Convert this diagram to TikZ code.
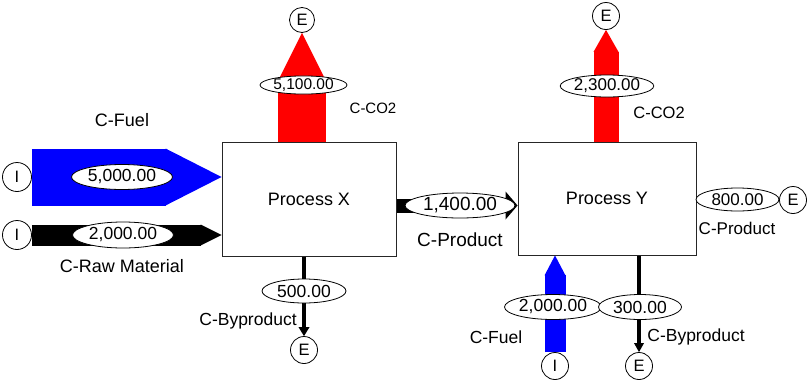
\documentclass[tikz,border=0pt]{standalone}
\usepackage{fontspec}
\setmainfont{Liberation Sans}
\usetikzlibrary{arrows.meta,shapes.geometric}
\pgfdeclarelayer{bg}
\pgfsetlayers{bg,main}
\newcommand{\myfs}[1]{\fontsize{#1}{#1}\selectfont}
\begin{document}
\begin{tikzpicture}[x=1pt,y=-1pt,
  proc/.style={draw=black!85, line width=0.9pt, fill=white, inner sep=0pt, font=\myfs{18}},
  val/.style={ellipse, draw, line width=0.8pt, fill=white, inner sep=0pt, font=\myfs{17.5}},
  term/.style={circle, draw, line width=0.8pt, fill=white, minimum size=27pt, inner sep=0pt, font=\myfs{16.5}},
  lbl/.style={inner sep=0pt, font=\myfs{17.5}},
  flowarrow/.style n args={3}{line width=#1, -{Triangle[length=#2,width=#3,line width=0pt]}}
]
\useasboundingbox (0,0) rectangle (810,386);

% process boxes
\node[proc, minimum width=174pt, minimum height=114pt] (X) at (309,199) {Process X};
\node[proc, minimum width=178pt, minimum height=113pt] (Y) at (607,198.5) {Process Y};

% terminals
\node[term, minimum size=29pt] (I1) at (17,177) {I};
\node[term, minimum size=29pt] (I2) at (17,235) {I};
\node[term] (I3) at (555,366) {I};
\node[term, minimum size=25pt] (E1) at (302,20) {E};
\node[term] (E2) at (606,16) {E};
\node[term] (E3) at (793,200) {E};
\node[term] (E4) at (639,366) {E};
\node[term] (E5) at (304,350) {E};

% value ellipses
\node[val, minimum width=101pt, minimum height=25pt] (V1) at (122,177) {5,000.00};
\node[val, minimum width=101pt, minimum height=26pt] (V2) at (123,235) {2,000.00};
\node[val, minimum width=87pt, minimum height=18pt, font=\myfs{15.5}] (V3) at (303.5,85) {5,100.00};
\node[val, minimum width=110pt, minimum height=25pt, font=\myfs{19}] (V4) at (460,205.5) {1,400.00};
\node[val, minimum width=93pt, minimum height=22pt, font=\myfs{17}] (V5) at (607,86) {2,300.00};
\node[val, minimum width=83pt, minimum height=23pt, font=\myfs{17}] (V6) at (737.5,199.5) {800.00};
\node[val, minimum width=97pt, minimum height=25pt] (V7) at (553,307) {2,000.00};
\node[val, minimum width=83pt, minimum height=25pt] (V8) at (640,307) {300.00};
\node[val, minimum width=84pt, minimum height=24pt] (V9) at (304,291) {500.00};

% labels
\node[lbl, font=\myfs{18}] (L1) at (122,120) {C-Fuel};
\node[lbl, font=\myfs{18}] (L2) at (122,266) {C-Raw Material};
\node[lbl, font=\myfs{15}] (L3) at (373,108) {C-CO2};
\node[lbl, font=\myfs{19}] (L4) at (460,240) {C-Product};
\node[lbl, font=\myfs{16.5}] (L5) at (659,113) {C-CO2};
\node[lbl, font=\myfs{17}] (L6) at (737,228) {C-Product};
\node[lbl] (L7) at (496,337) {C-Fuel};
\node[lbl] (L8) at (696,337) {C-Byproduct};
\node[lbl] (L9) at (248,321) {C-Byproduct};

% flows
\begin{pgfonlayer}{bg}
\fill[white] (0,0) rectangle (810,386);
\draw[blue, flowarrow={57pt}{56pt}{57pt}] (I1.east) -- (I1.east -| X.west);
\draw[black, flowarrow={21pt}{21pt}{21pt}] (I2.east) -- (I2.east -| X.west);
\draw[red, flowarrow={48pt}{48pt}{48pt}] (E1.south |- X.north) -- (E1.south);
\draw[black, flowarrow={14pt}{12pt}{28pt}] (X.east |- V4) -- (Y.west |- V4);
\draw[red, flowarrow={25pt}{22pt}{25pt}] (E2.south |- Y.north) -- (E2.south);
\draw[black, flowarrow={6pt}{6pt}{10pt}] (Y.east |- E3) -- (E3.west);
\draw[blue, flowarrow={21pt}{20pt}{21pt}] (I3.north) -- (I3.north |- Y.south);
\draw[black, flowarrow={3.5pt}{9pt}{10pt}] (E4.north |- Y.south) -- (E4.north);
\draw[black, flowarrow={4pt}{9pt}{11pt}] (E5.north |- X.south) -- (E5.north);
\end{pgfonlayer}
\end{tikzpicture}
\end{document}
